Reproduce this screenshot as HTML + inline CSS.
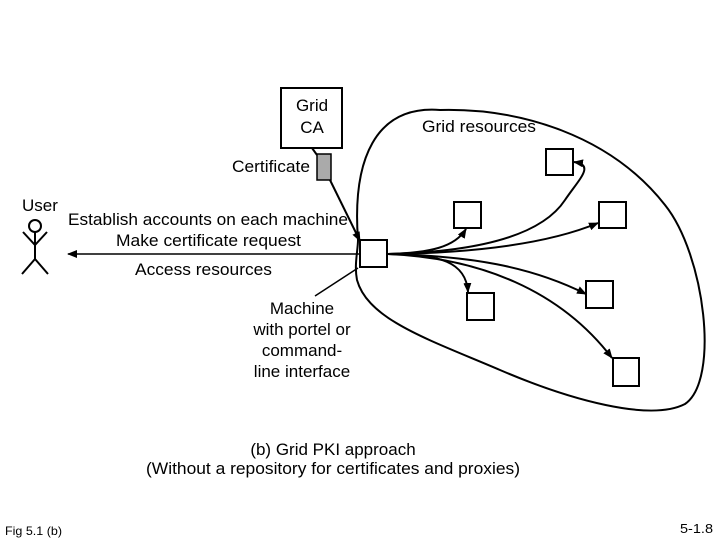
<!DOCTYPE html>
<html><head><meta charset="utf-8"><style>
html,body{margin:0;padding:0;background:#fff}
svg{display:block}
text{font-family:"Liberation Sans",Arial,sans-serif;fill:#000}
</style></head><body>
<svg width="720" height="540" viewBox="0 0 720 540" xmlns="http://www.w3.org/2000/svg">
<defs>
<marker id="a" markerWidth="10" markerHeight="8" refX="9" refY="4" orient="auto" markerUnits="userSpaceOnUse">
<path d="M0,0 L10,4 L0,8 Z" fill="#000"/></marker>
</defs>
<g fill="none" stroke="#000" stroke-width="2">
<path d="M358,240 C352,160 375,105 440,110 C520,108 610,135 665,205 C705,255 720,380 685,404 C650,422 570,400 500,370 C430,340 368,320 357,280 C354,265 358,250 358,240 Z"/>
<rect x="281" y="88" width="61" height="60"/>
<rect x="360" y="240" width="27" height="27"/>
<rect x="546" y="149" width="27" height="26"/>
<rect x="454" y="202" width="27" height="26"/>
<rect x="599" y="202" width="27" height="26"/>
<rect x="586" y="281" width="27" height="27"/>
<rect x="467" y="293" width="27" height="27"/>
<rect x="613" y="358" width="26" height="28"/>
</g>
<rect x="317" y="154" width="14" height="26" fill="#aaa" stroke="#000" stroke-width="1.5"/>
<g fill="none" stroke="#000" stroke-width="2">
<line x1="312" y1="148" x2="317" y2="155"/>
<line x1="330" y1="180" x2="360" y2="241" marker-end="url(#a)"/>
<line x1="358" y1="268" x2="315" y2="296" stroke-width="1.5"/>
<path d="M388,254 C430,253 455,247 466,229" marker-end="url(#a)"/>
<path d="M388,254 C470,252 540,238 565,200 C580,178 595,165 574,162" marker-end="url(#a)"/>
<path d="M388,254 C470,253 545,245 598,223" marker-end="url(#a)"/>
<path d="M388,254 C470,256 530,266 586,294" marker-end="url(#a)"/>
<path d="M388,254 C440,254 466,262 468,292" marker-end="url(#a)"/>
<path d="M388,254 C480,258 560,290 612,358" marker-end="url(#a)"/>
</g>
<line x1="360" y1="254" x2="68" y2="254" stroke="#000" stroke-width="1.5" marker-end="url(#a)"/>
<g fill="none" stroke="#000" stroke-width="2">
<circle cx="35" cy="226" r="6"/>
<line x1="35" y1="232" x2="35" y2="259"/>
<path d="M23,232 L35,245 L47,232"/>
<path d="M22,274 L35,259 L48,274"/>
</g>
<g font-size="17">
<text x="312" y="111" text-anchor="middle">Grid</text>
<text x="312" y="133" text-anchor="middle">CA</text>
<text x="232" y="172" textLength="78" lengthAdjust="spacingAndGlyphs">Certificate</text>
<text x="422" y="132" textLength="114" lengthAdjust="spacingAndGlyphs">Grid resources</text>
<text x="22" y="211">User</text>
<text x="68" y="225" textLength="280" lengthAdjust="spacingAndGlyphs">Establish accounts on each machine</text>
<text x="116" y="246" textLength="185" lengthAdjust="spacingAndGlyphs">Make certificate request</text>
<text x="135" y="275" textLength="137" lengthAdjust="spacingAndGlyphs">Access resources</text>
<text x="302" y="314" text-anchor="middle">Machine</text>
<text x="302" y="335" text-anchor="middle">with portel or</text>
<text x="302" y="356" text-anchor="middle">command-</text>
<text x="302" y="377" text-anchor="middle">line interface</text>
<text x="333" y="455" text-anchor="middle">(b) Grid PKI approach</text>
<text x="146" y="474" textLength="374" lengthAdjust="spacingAndGlyphs">(Without a repository for certificates and proxies)</text>
</g>
<text x="5" y="535" font-size="12" textLength="57" lengthAdjust="spacingAndGlyphs">Fig 5.1 (b)</text>
<text x="680" y="533" font-size="13" textLength="33" lengthAdjust="spacingAndGlyphs">5-1.8</text>
</svg>
</body></html>
